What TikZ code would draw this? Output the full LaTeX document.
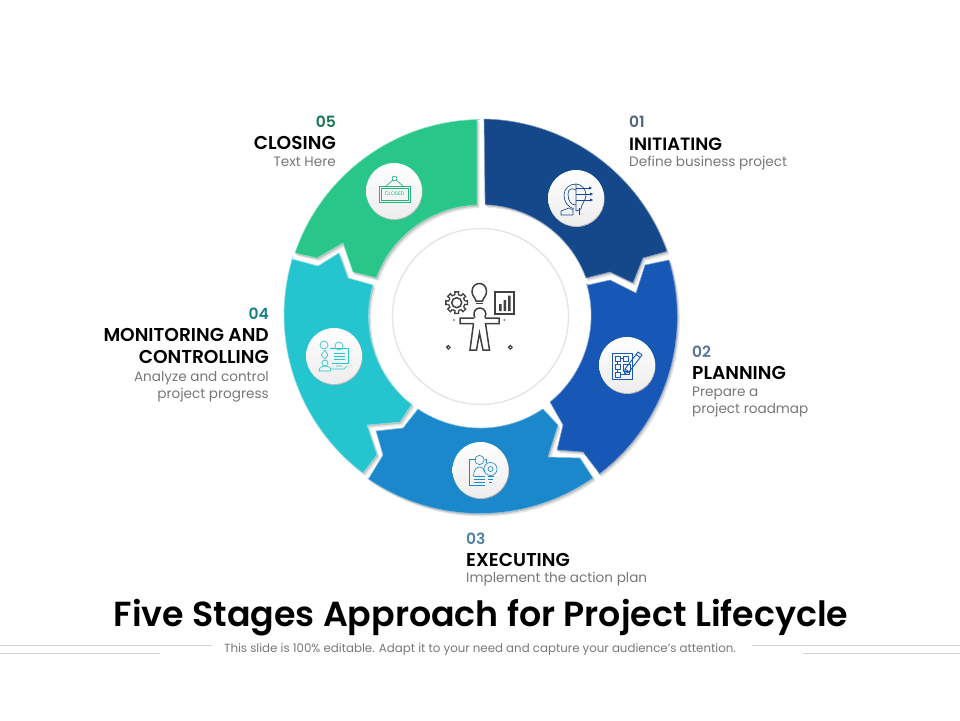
\documentclass[tikz,border=0pt]{standalone}
\usepackage{fontspec}
\setmainfont{Poppins}[BoldFont={Poppins SemiBold}]
\definecolor{cA}{HTML}{14488A}
\definecolor{cB}{HTML}{1757B5}
\definecolor{cC}{HTML}{1C88CC}
\definecolor{cD}{HTML}{25C5CF}
\definecolor{cE}{HTML}{29C68A}
\definecolor{txtgray}{HTML}{777777}
\definecolor{rule}{HTML}{D4D4D4}
\tikzset{
  seg/.style={fill=#1,draw=#1!55!white,line width=.6pt,line join=miter,
    preaction={fill=black!10,draw=none,transform canvas={shift={(2.5pt,-3pt)}}},
    preaction={fill=black!24,draw=none,transform canvas={shift={(1.2pt,-1.5pt)}}}},
  oa/.style 2 args={start angle=-#1,end angle=-#2,radius=197.5pt},
  ia/.style 2 args={start angle=-#1,end angle=-#2,radius=111.5pt},
  badge/.style={circle,minimum size=56pt,inner sep=0pt,top color=white,bottom color=black!7,
    preaction={fill=black!28,transform canvas={shift={(.5pt,-1pt)}}}},
  num/.style={font=\fontsize{15.5}{15.5}\selectfont\bfseries,inner sep=0pt},
  head/.style={font=\fontsize{18.6}{22}\selectfont\bfseries,text=black,inner sep=0pt},
  desc/.style={font=\fontsize{13.6}{17}\selectfont,text=txtgray,inner sep=0pt},
  ico/.style={line width=.65pt,draw=#1,fill=none,line join=round},
  big/.style={line width=1.5pt,draw=black!75,fill=none,line join=miter}
}
\begin{document}
\begin{tikzpicture}[x=1pt,y=-1pt]
\useasboundingbox (0,0) rectangle (960,720);
% segments
\path[seg=cA] (484,119) arc[oa={-89}{-19.3}] -- (665,252) -- (643,258) -- (633,283) -- (610,272) -- (586,278) arc[ia={-20}{-88}] -- cycle;
\path[seg=cB] (669,260) arc[oa={-16.7}{52.9}] -- (599,473) -- (583,452) -- (557,450) -- (563,425) -- (550,402) arc[ia={50.9}{-16.3}] -- (588,285) -- (610,280) -- (636,293) -- (645,265) -- cycle;
\path[seg=cC] (593,478) arc[oa={55.1}{124.6}] -- (369,478) -- (383,455) -- (376,431) -- (403,428) -- (418,409) arc[ia={124}{56}] -- (543,409) -- (558,425) -- (548,457) -- (580,458) -- cycle;
\path[seg=cD] (363,473) arc[oa={126.9}{197}] -- (292,259) -- (318,266) -- (339,253) -- (348,278) -- (373,285) arc[ia={196.3}{128}] -- (412,404) -- (400,422) -- (367,425) -- (377,455) -- cycle;
\path[seg=cE] (295,253) arc[oa={198.9}{269}] -- (477,120) -- (477,205) arc[ia={268}{200.4}] -- (377,278) -- (353,272) -- (343,243) -- (317,258) -- cycle;
% inner ring
\node[circle,minimum size=176pt,inner sep=0pt,draw=black!10,line width=1.4pt,fill=white] (hub) at (480.5,316.5) {};
% badges
\node[badge] (b1) at (576,198) {};
\node[badge] (b2) at (627,365) {};
\node[badge] (b3) at (480.5,470) {};
\node[badge] (b4) at (334,356) {};
\node[badge] (b5) at (394,191) {};
% central icon
\draw[big] (475,317.5) arc[start angle=215,end angle=-35,radius=6pt];
\draw[big] (473.5,323.5) -- (460,323.5) -- (460,318) -- (474,318) (485,318) -- (499,318) -- (499,323.5) -- (485.5,323.5) -- (489.5,350) -- (483,350) -- (479.5,333) -- (476.5,350) -- (470,350) -- (473.5,323.5);
\draw[big] (456.7,302.7) circle (5);
\foreach \a in {0,45,...,315}{
  \draw[big,line width=1.3pt] ({456.7+8.2*cos(\a-12)},{302.7+8.2*sin(\a-12)}) -- ({456.7+11*cos(\a-10)},{302.7+11*sin(\a-10)}) -- ({456.7+11*cos(\a+10)},{302.7+11*sin(\a+10)}) -- ({456.7+8.2*cos(\a+12)},{302.7+8.2*sin(\a+12)}) -- ({456.7+8.2*cos(\a+33)},{302.7+8.2*sin(\a+33)});
}
\draw[big] (476,301) .. controls (475,297) and (472,296) .. (472,291.5) .. controls (472,286) and (476,283.5) .. (479.3,283.5) .. controls (483,283.5) and (486.5,286) .. (486.5,291.5) .. controls (486.5,296) and (483.5,297) .. (482.5,301) -- cycle;
\draw[big] (476,303.5) -- (482.5,303.5);
\draw[big] (495,292) rectangle (514,314);
\fill[black!75] (499,304) rectangle (501.5,311) (503.5,300) rectangle (506,311) (508,295.5) rectangle (510.5,311);
\foreach \x in {448.3,510.3}{\fill[black!70] (\x,344.6) -- (\x+2.7,347.3) -- (\x,350) -- (\x-2.7,347.3) -- cycle; \fill[white] (\x-.5,346.8) rectangle (\x+.5,347.8);}
\fill[black!70] (454,320) circle (.9) (504.3,320) circle (.9);
% icon 5: closed sign
\begin{scope}[shift={(394,191)}]
\draw[ico=cE!90!black] (-15,-5) rectangle (16,11);
\draw[ico=cE!90!black] (-13,-3) rectangle (14,9);
\draw[ico=cE!90!black] (-8,-5) -- (-1,-11) (2,-11) -- (9,-5);
\draw[ico=cE!90!black] (0.5,-12.5) circle (2.4);
\node[inner sep=0pt,text=cE!90!black,font=\fontsize{5.2}{5}\selectfont] (closedtxt) at (0.5,3) {CLOSED};
\end{scope}
% icon 1: head bulb
\begin{scope}[shift={(576,198)}]
\draw[ico=cA] (-2,11) .. controls (-8,9) and (-12,4) .. (-12,-3) .. controls (-12,-10) and (-6,-14) .. (0,-14) -- (0,13);
\draw[ico=cA] (-15,17) -- (-15,13) -- (-7,10) -- (-3,12) -- (-3,17) -- cycle;
\draw[ico=cA] (-8,-4) .. controls (-8,-10) and (-3,-10) .. (0,-8) (-8,-4) .. controls (-8,3) and (-5,7) .. (0,7);
\draw[ico=cA] (0,-14) .. controls (6,-14) and (10,-8) .. (10,-3) .. controls (10,3) and (5,6) .. (5,11) -- (0,13);
\draw[ico=cA] (0,-10) -- (13,-10) (0,-4) -- (14,-4) (0,2) -- (14,2) (3,17) -- (3,10);
\fill[cA] (13,-11.5) -- (16,-10) -- (13,-8.5) -- cycle (14,-5.5) -- (17,-4) -- (14,-2.5) -- cycle (14,.5) -- (17,2) -- (14,3.5) -- cycle;
\end{scope}
% icon 2: plan and pencil
\begin{scope}[shift={(627,365)}]
\draw[ico=cB] (-15,-12) rectangle (5,14);
\draw[ico=cB] (-12,-9) rectangle (-7,-4) (-4,-9) rectangle (1,-4) (-12,-1) rectangle (-7,4) (-12,7) rectangle (-7,12) (-4,-1) rectangle (3,6);
\draw[ico=cB] (-7,-6.5) -- (-4,-6.5) (-9.5,-4) -- (-9.5,-1) (-9.5,4) -- (-9.5,7) (-7,9.5) -- (2,9.5) -- (2,6);
\draw[ico=cB,line width=.9pt] (-2,4) -- (11,-13) -- (15,-10) -- (2,7) -- cycle (-2,4) -- (-2.5,8.5) -- (2,7) (9,-10.5) -- (13,-7.5);
\end{scope}
% icon 3: person, document and bulb
\begin{scope}[shift={(480.5,470)}]
\draw[ico=cC] (-5,-11) -- (-11,-11) -- (-11,15) -- (4,15) (4,-11) -- (6,-11) -- (6,-7);
\draw[ico=cC] (-1,-10) circle (4.6);
\draw[ico=cC] (-7,6) .. controls (-7,0) and (-4,-3) .. (-1,-3) .. controls (2,-3) and (4,-1) .. (4,2);
\draw[ico=cC] (-7,6) -- (4,6) (-7,9) -- (4,9) (-7,12) -- (4,12);
\draw[ico=cC] (10,-1) circle (6.5) (10,-1) circle (2.5);
\draw[ico=cC] (7,6) -- (13,6) (7.5,9) -- (12.5,9) (8.5,12) -- (11.5,12);
\end{scope}
% icon 4: person and board
\begin{scope}[shift={(334,356)}]
\draw[ico=cD] (-4,-8) -- (14,-8) -- (14,7) -- (-2,7);
\draw[ico=cD] (-10,-11) circle (4) (5,-10) circle (4);
\draw[ico=cD] (0,-3) -- (11,-3) (0,0) -- (11,0) (0,3) -- (11,3);
\draw[ico=cD] (-9,-6) -- (-13,-1) -- (-9,3) -- (-6,-1) -- cycle;
\draw[ico=cD] (-9,7) circle (3);
\draw[ico=cD] (-15,15) .. controls (-15,11) and (-11,10) .. (-9,10) .. controls (-6,10) and (-3,11) .. (-3,15) -- cycle;
\draw[ico=cD] (-3,13) -- (10,13) -- (13,10) (2,10) -- (8,10);
\end{scope}
% labels
\node[num,anchor=west,text=cA!50!black!70!white] (n1) at (629,122) {01};
\node[head,anchor=west,font=\fontsize{17.8}{22}\selectfont\bfseries] (h1) at (629,144) {INITIATING};
\node[desc,anchor=west] (d1) at (629,163) {Define business project};
\node[num,anchor=west,text=cB!65!black!70!white] (n2) at (692,352) {02};
\node[head,anchor=west] (h2) at (692,373) {PLANNING};
\node[desc,anchor=north west,align=left] (d2) at (692,387) {Prepare a\\project roadmap};
\node[num,anchor=west,text=cC!65!black!75!white] (n3) at (466,539) {03};
\node[head,anchor=west] (h3) at (466,560) {EXECUTING};
\node[desc,anchor=west] (d3) at (466,579) {Implement the action plan};
\node[num,anchor=east,text=cD!65!black] (n4) at (269,314) {04};
\node[head,anchor=north east,align=right] (h4) at (269,328.5) {MONITORING AND\\CONTROLLING};
\node[desc,anchor=north east,align=right] (d4) at (269,371.5) {Analyze and control\\project progress};
\node[num,anchor=east,text=cE!60!black] (n5) at (336,122) {05};
\node[head,anchor=east] (h5) at (336,143) {CLOSING};
\node[desc,anchor=east] (d5) at (336,162) {Text Here};
% title
\node[inner sep=0pt,font=\fontsize{34.8}{35}\selectfont\bfseries] (title) at (481,618) {Five Stages Approach for Project Lifecycle};
\node[inner sep=0pt,font=\fontsize{11.8}{12}\selectfont,text=txtgray] (sub) at (480,649.5) {This slide is 100\% editable. Adapt it to your need and capture your audience's attention.};
\draw[rule,line width=.8pt] (0,645.5) -- (212,645.5) (0,653) -- (160,653) (752,645.5) -- (960,645.5) (803,653) -- (960,653);
\end{tikzpicture}
\end{document}
